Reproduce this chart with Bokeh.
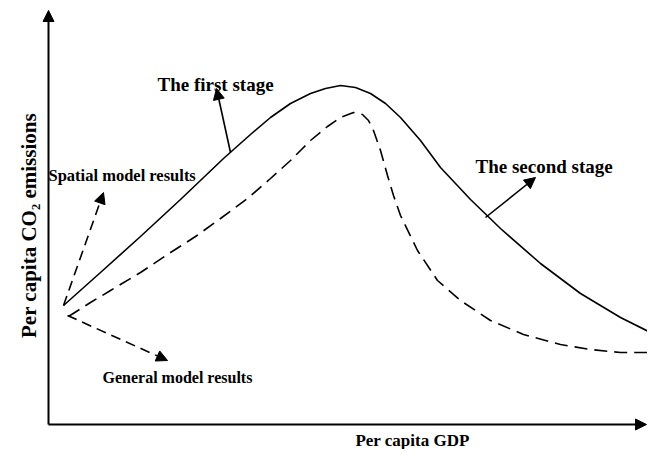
import math
from bokeh.plotting import figure
from bokeh.models import Range1d, Arrow, NormalHead
from bokeh.core.properties import value
from bokeh.embed import file_html
from bokeh.resources import INLINE

# ---- data (conceptual EKC curves) ----
gdp_solid = [15, 52, 92, 132, 175, 202, 222, 242, 262, 277, 292, 307, 322, 337, 352,
             372, 392, 422, 452, 492, 532, 572, 612]
co2_solid = [127, 160, 196, 233, 274, 298, 315, 329, 339, 344, 347, 345, 339, 329, 315,
             292, 265, 233, 204, 169, 139, 115, 95]

gdp_dashed = [20, 42, 62, 92, 119, 147, 172, 199, 222, 242, 262, 279, 292, 305, 314, 320,
              325, 332, 339, 345, 352, 369, 389, 412, 442, 475, 512, 542, 572, 612]
co2_dashed = [116, 130, 142, 160, 178, 196, 214, 234, 254, 272, 292, 306, 315, 320, 318, 312,
              302, 282, 257, 237, 217, 182, 152, 132, 112, 98, 88, 83, 80, 80]

labels = ["The first stage", "The second stage", "Spatial model results", "General model results"]
label_x = [109, 427, 0, 54]
label_y = [348, 266, 257, 55]

x_title = "Per capita GDP"
y_title = "Per capita CO\u2082 emissions"

FONT = value("Liberation Serif")

AXIS_Y = 8      # level of the horizontal axis line
Y_TOP = 422     # tip of the vertical axis arrow
X_END = 598     # tip of the horizontal axis arrow

p = figure(width=647, height=449, output_backend="svg", toolbar_location=None,
           x_range=Range1d(-48, 599), y_range=Range1d(-17, 432),
           x_axis_location=None, y_axis_location=None, min_border=0)
p.outline_line_color = None
p.grid.visible = False
p.background_fill_color = "white"
p.border_fill_color = "white"

# curves
p.line(gdp_solid, co2_solid, line_color="black", line_width=1.6)
p.line(gdp_dashed, co2_dashed, line_color="black", line_width=1.6, line_dash="13 7")

def head():
    return NormalHead(size=11, fill_color="black", line_color="black")

# axes with arrows
p.add_layout(Arrow(end=head(), x_start=0, y_start=AXIS_Y, x_end=0, y_end=Y_TOP,
                   line_color="black", line_width=2))
p.add_layout(Arrow(end=head(), x_start=0, y_start=AXIS_Y, x_end=X_END, y_end=AXIS_Y,
                   line_color="black", line_width=2))

# annotation arrows
p.add_layout(Arrow(end=head(), x_start=182, y_start=280, x_end=168, y_end=344,
                   line_color="black", line_width=1.6))
p.add_layout(Arrow(end=head(), x_start=437, y_start=215, x_end=487, y_end=255,
                   line_color="black", line_width=1.6))
p.add_layout(Arrow(end=head(), x_start=15, y_start=127, x_end=55, y_end=240,
                   line_color="black", line_width=1.6, line_dash="10 6"))
p.add_layout(Arrow(end=head(), x_start=19, y_start=117, x_end=119, y_end=72,
                   line_color="black", line_width=1.6, line_dash="10 6"))

# annotation labels
sizes = ["19px", "19px", "16.5px", "16px"]
for t, x, y, s in zip(labels, label_x, label_y, sizes):
    p.text(x=[x], y=[y], text=[t], text_font=FONT, text_font_style="bold",
           text_font_size=s, text_align="left", text_baseline="middle", text_color="black")

# axis titles
p.text(x=[364], y=[-8], text=[x_title], text_font=FONT, text_font_style="bold",
       text_font_size="17px", text_align="center", text_baseline="alphabetic", text_color="black")
p.text(x=[-20], y=[207], text=[y_title], text_font=FONT, text_font_style="bold",
       text_font_size="21px", text_align="center", text_baseline="middle", text_color="black",
       angle=math.pi / 2)

open("out.html", "w").write(file_html(p, INLINE))
